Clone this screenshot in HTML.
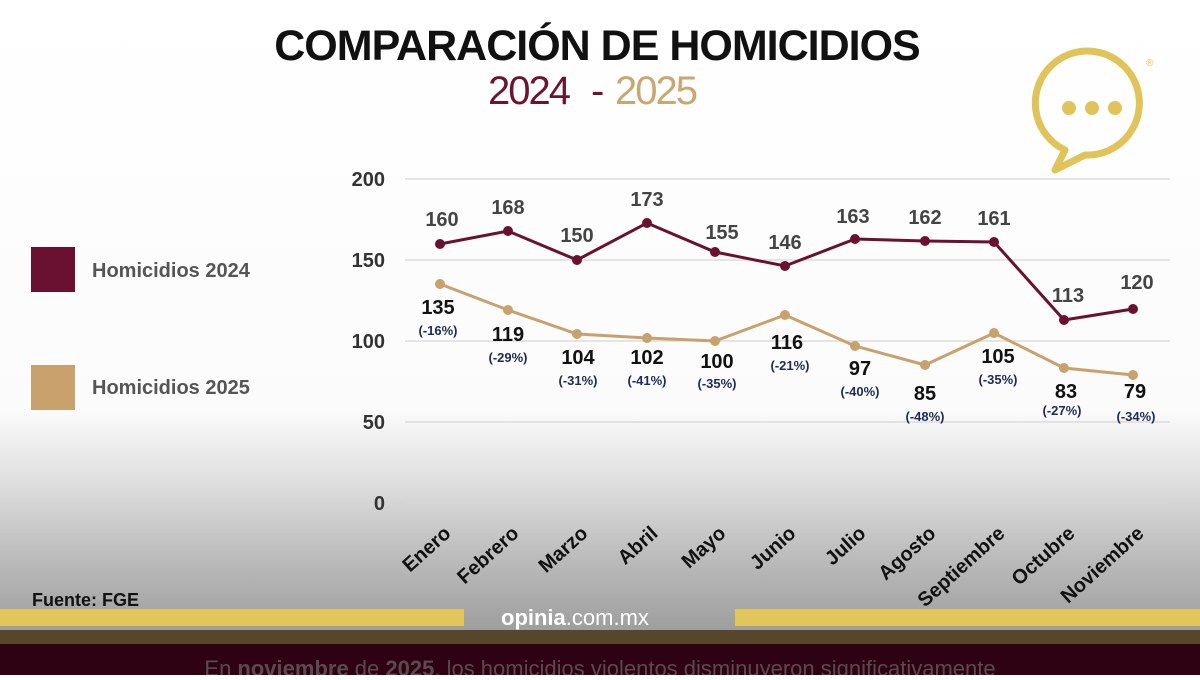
<!DOCTYPE html>
<html><head><meta charset="utf-8"><style>
body{margin:0;width:1200px;height:675px;overflow:hidden;font-family:"Liberation Sans",sans-serif}
</style></head><body>
<svg width="1200" height="675" viewBox="0 0 1200 675" xmlns="http://www.w3.org/2000/svg" font-family="Liberation Sans, sans-serif">
<defs>
<linearGradient id="bg" x1="0" y1="0" x2="0" y2="1">
<stop offset="0" stop-color="#ffffff"/><stop offset="0.65" stop-color="#fbfbfb"/><stop offset="0.76" stop-color="#e0e0e0"/><stop offset="0.88" stop-color="#bdbdbd"/><stop offset="1" stop-color="#9e9e9e"/>
</linearGradient>
</defs>
<rect width="1200" height="630" fill="url(#bg)"/>
<text x="597" y="60" text-anchor="middle" font-size="43" font-weight="900" fill="#111" letter-spacing="-1">COMPARACIÓN DE HOMICIDIOS</text>
<text x="488" y="104" font-size="40" fill="#6b1530" letter-spacing="-2">2024</text>
<text x="591" y="104" font-size="40" fill="#6b1530">-</text>
<text x="615" y="104" font-size="40" fill="#c9a772" letter-spacing="-2">2025</text>
<g fill="none" stroke="#e0c45a" stroke-width="7">
<path d="M1065 150 A52 52 0 1 1 1085 155 L1055 170 Z" stroke-linejoin="round"/>
</g>
<circle cx="1069" cy="108" r="7" fill="#e0c45a"/><circle cx="1092" cy="108" r="7" fill="#e0c45a"/><circle cx="1115" cy="108" r="7" fill="#e0c45a"/>
<text x="1146" y="66" font-size="10" fill="#e0c45a">®</text>
<g stroke="#d6d6d6" stroke-width="1.2">
<line x1="405" x2="1170" y1="179" y2="179"/><line x1="405" x2="1170" y1="260" y2="260"/><line x1="405" x2="1170" y1="341" y2="341"/><line x1="405" x2="1170" y1="422" y2="422"/><line x1="405" x2="1170" y1="503" y2="503"/>
</g>
<g font-size="20" fill="#333" text-anchor="end" font-weight="bold">
<text x="385" y="186">200</text><text x="385" y="267">150</text><text x="385" y="348">100</text><text x="385" y="429">50</text><text x="385" y="510">0</text>
</g>
<rect x="31" y="247" width="44" height="45" fill="#6a1030"/>
<text x="92" y="277" font-size="20" font-weight="bold" fill="#555">Homicidios 2024</text>
<rect x="31" y="365" width="44" height="45" fill="#c9a16c"/>
<text x="92" y="394" font-size="20" font-weight="bold" fill="#555">Homicidios 2025</text>
<polyline fill="none" stroke="#6a1030" stroke-width="3" points="440,244 508,231 577,260 647,223 715,252 785,266 855,239 925,241 994,242 1064,320 1133,309"/>
<g fill="#6a1030"><circle cx="440" cy="244" r="5"/><circle cx="508" cy="231" r="5"/><circle cx="577" cy="260" r="5"/><circle cx="647" cy="223" r="5"/><circle cx="715" cy="252" r="5"/><circle cx="785" cy="266" r="5"/><circle cx="855" cy="239" r="5"/><circle cx="925" cy="241" r="5"/><circle cx="994" cy="242" r="5"/><circle cx="1064" cy="320" r="5"/><circle cx="1133" cy="309" r="5"/></g>
<polyline fill="none" stroke="#c9a16c" stroke-width="3" points="440,284 508,310 577,334 647,338 715,341 785,315 855,346 925,365 994,333 1064,368 1133,375"/>
<g fill="#c9a16c"><circle cx="440" cy="284" r="5"/><circle cx="508" cy="310" r="5"/><circle cx="577" cy="334" r="5"/><circle cx="647" cy="338" r="5"/><circle cx="715" cy="341" r="5"/><circle cx="785" cy="315" r="5"/><circle cx="855" cy="346" r="5"/><circle cx="925" cy="365" r="5"/><circle cx="994" cy="333" r="5"/><circle cx="1064" cy="368" r="5"/><circle cx="1133" cy="375" r="5"/></g>
<g font-size="20" font-weight="bold" fill="#444" text-anchor="middle">
<text x="442" y="226">160</text><text x="508" y="214">168</text><text x="577" y="242">150</text><text x="647" y="206">173</text><text x="722" y="239">155</text><text x="785" y="249">146</text><text x="853" y="223">163</text><text x="925" y="224">162</text><text x="994" y="225">161</text><text x="1068" y="302">113</text><text x="1137" y="289">120</text>
</g>
<g font-size="20" font-weight="bold" fill="#111" text-anchor="middle">
<text x="438" y="314">135</text><text x="508" y="341">119</text><text x="578" y="364">104</text><text x="647" y="364">102</text><text x="717" y="368">100</text><text x="787" y="349">116</text><text x="860" y="375">97</text><text x="925" y="400">85</text><text x="998" y="363">105</text><text x="1066" y="398">83</text><text x="1135" y="398">79</text>
</g>
<g font-size="13" font-weight="bold" fill="#1e2b55" text-anchor="middle">
<text x="438" y="335">(-16%)</text><text x="508" y="362">(-29%)</text><text x="578" y="385">(-31%)</text><text x="647" y="385">(-41%)</text><text x="717" y="388">(-35%)</text><text x="790" y="370">(-21%)</text><text x="860" y="396">(-40%)</text><text x="925" y="421">(-48%)</text><text x="998" y="384">(-35%)</text><text x="1062" y="415">(-27%)</text><text x="1136" y="421">(-34%)</text>
</g>
<g font-size="20" font-weight="bold" fill="#111" text-anchor="end">
<text transform="translate(452,535) rotate(-42)">Enero</text>
<text transform="translate(520,535) rotate(-42)">Febrero</text>
<text transform="translate(589,535) rotate(-42)">Marzo</text>
<text transform="translate(659,535) rotate(-42)">Abril</text>
<text transform="translate(727,535) rotate(-42)">Mayo</text>
<text transform="translate(797,535) rotate(-42)">Junio</text>
<text transform="translate(867,535) rotate(-42)">Julio</text>
<text transform="translate(937,535) rotate(-42)">Agosto</text>
<text transform="translate(1006,535) rotate(-42)">Septiembre</text>
<text transform="translate(1076,535) rotate(-42)">Octubre</text>
<text transform="translate(1145,535) rotate(-42)">Noviembre</text>
</g>
<text x="32" y="606" font-size="18" font-weight="bold" fill="#111">Fuente: FGE</text>
<rect x="0" y="609" width="464" height="17" fill="#e2c65c"/>
<rect x="735" y="609" width="465" height="17" fill="#e2c65c"/>
<text x="501" y="625" font-size="22" font-weight="bold" fill="#fff">opinia<tspan font-weight="normal">.com.mx</tspan></text>
<rect x="0" y="630" width="1200" height="14" fill="#57452c"/>
<rect x="0" y="644" width="1200" height="31" fill="#2e0212"/>
<text x="600" y="676" text-anchor="middle" font-size="22" fill="#5a4a4e">En <tspan font-weight="bold">noviembre</tspan> de <tspan font-weight="bold">2025</tspan>, los homicidios violentos disminuyeron significativamente</text>
</svg>
</body></html>
